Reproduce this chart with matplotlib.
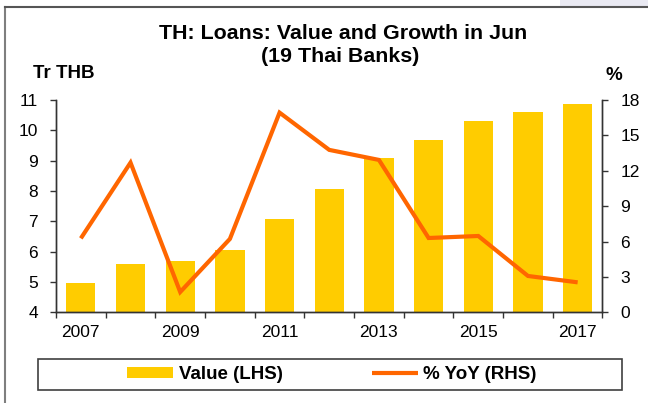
import matplotlib
matplotlib.use("Agg")
import matplotlib.pyplot as plt
from matplotlib.patches import Rectangle
from matplotlib.lines import Line2D
import numpy as np

plt.rcParams['font.family'] = ['Liberation Sans', 'DejaVu Sans']

years = [2007, 2008, 2009, 2010, 2011, 2012, 2013, 2014, 2015, 2016, 2017]
value_trthb = [4.97, 5.59, 5.69, 6.04, 7.08, 8.05, 9.09, 9.67, 10.30, 10.60, 10.88]
yoy_pct = [6.27, 12.69, 1.72, 6.22, 16.93, 13.77, 12.92, 6.30, 6.47, 3.08, 2.54]
xlabels = ['2007', '2009', '2011', '2013', '2015', '2017']
left_ticks = [4, 5, 6, 7, 8, 9, 10, 11]
right_ticks = [0, 3, 6, 9, 12, 15, 18]

W, H = 648, 403
fig = plt.figure(figsize=(W / 100, H / 100), dpi=100)

def fx(px):
    return px / W

def fy(py):
    return 1 - py / H

# figure border (left and top) + light corner shading
fig.add_artist(Rectangle((fx(560), fy(7)), fx(88), 7 / H, transform=fig.transFigure,
                         facecolor='#e9e9f2', edgecolor='none', zorder=0))
fig.add_artist(Line2D([fx(4.5), fx(4.5)], [fy(7), 0], transform=fig.transFigure,
                      color='#7f7f7f', lw=1.5))
fig.add_artist(Line2D([fx(4.5), 1], [fy(7), fy(7)], transform=fig.transFigure,
                      color='#555555', lw=1.5))

ax = fig.add_axes([fx(56), fy(312.3), fx(602.5) - fx(56), fy(100) - fy(312.3)])
ax2 = ax.twinx()

x = np.arange(len(years))
bars = ax.bar(x, value_trthb, width=0.59, color='#FFCC00', zorder=2, label='Value (LHS)')
line, = ax2.plot(x, yoy_pct, color='#FF6600', lw=3.0, solid_capstyle='butt',
                 solid_joinstyle='miter', label='% YoY (RHS)')

ax.set_xlim(-0.5, len(years) - 0.5)
ax.set_ylim(4, 11)
ax2.set_ylim(0, 18)

ax.set_yticks(left_ticks)
ax2.set_yticks(right_ticks)

# tick marks at category boundaries, labels on odd years
ax.set_xticks(np.arange(-0.5, len(years), 1.0))
ax.set_xticklabels([])
ax.set_xticks([years.index(int(l)) for l in xlabels], minor=True)
ax.set_xticklabels(xlabels, minor=True)

spine_col = '#333333'
for a in (ax, ax2):
    for s in a.spines.values():
        s.set_color(spine_col)
        s.set_linewidth(1.0)
    a.spines['top'].set_visible(False)

ax.tick_params(axis='x', which='major', direction='out', length=4.3, width=1.0, color=spine_col)
ax.tick_params(axis='x', which='minor', length=0, pad=9, labelsize=12.5, labelcolor='black')
ax.tick_params(axis='y', direction='out', length=4.3, width=1.0, color=spine_col,
               pad=8.5, labelsize=12.5)
ax2.tick_params(axis='y', direction='out', length=4.3, width=1.0, color=spine_col,
                pad=8.5, labelsize=12.5)

ax.set_zorder(1)
ax2.set_zorder(2)
ax.patch.set_visible(False)
ax2.patch.set_visible(False)

# titles
fig.text(fx(343.5), fy(39), 'TH: Loans: Value and Growth in Jun',
         ha='center', va='baseline', fontsize=15.4, fontweight='bold')
fig.text(fx(340), fy(62), '(19 Thai Banks)',
         ha='center', va='baseline', fontsize=15.4, fontweight='bold')
fig.text(fx(33), fy(78.3), 'Tr THB', ha='left', va='baseline', fontsize=13.5, fontweight='bold')
fig.text(fx(613.5), fy(80.5), '%', ha='center', va='baseline', fontsize=13.5, fontweight='bold')

# legend box
fig.add_artist(Rectangle((fx(37.5), fy(390)), fx(622) - fx(37.5), (390 - 359) / H,
                         transform=fig.transFigure, facecolor='white', edgecolor='#404040',
                         lw=1.2, zorder=3))
leg = fig.legend(handles=[bars, line], labels=['Value (LHS)', '% YoY (RHS)'],
                 loc='center', bbox_to_anchor=(fx(332), fy(374.5)), ncol=2, frameon=False,
                 prop={'weight': 'bold', 'size': 13.5}, handlelength=2.45, handleheight=0.48,
                 handletextpad=0.3, columnspacing=4.75, borderpad=0, borderaxespad=0)
leg.set_zorder(4)

fig.savefig('out.png', dpi=100)
